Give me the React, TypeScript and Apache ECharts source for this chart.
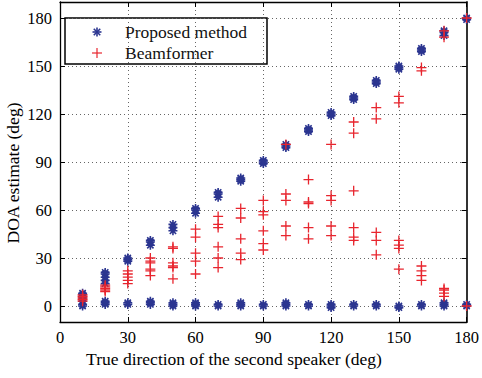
import React, { useEffect, useRef } from "react";
import * as echarts from "echarts";

const angles = [10, 20, 30, 40, 50, 60, 70, 80, 90, 100, 110, 120, 130, 140, 150, 160, 170, 180];

const proposedEstimates = [
  [0, 1, 3, 5, 7, 8],
  [14, 16, 18, 20, 21, 1, 2, 3],
  [28, 29, 30, 1, 2],
  [38, 40, 41, 1, 2, 3],
  [47, 49, 51, 0, 1, 2],
  [58, 60, 61, 0, 1, 2],
  [68, 70, 71, 0, 1],
  [78, 79, 80, 0, 1, 2],
  [89, 90, 91, 0, 1],
  [99, 100, 101, 0, 1, 2],
  [109, 110, 111, 0, 1],
  [119, 120, 121, -1, 0, 1],
  [129, 130, 131, 0, 1],
  [139, 140, 141, 0, 1],
  [148, 149, 150, -1, 0],
  [159, 160, 161, 0, 1],
  [169, 171, 172, 0, 1, 2],
  [179, 180, 0, 1],
];

const beamformerEstimates = [
  [3, 4, 5, 6, 7],
  [9, 10, 11, 12, 13],
  [14, 16, 18, 20, 22],
  [19, 22, 23, 27, 28, 30],
  [17, 24, 25, 27, 36, 37],
  [20, 28, 33, 43, 48],
  [24, 30, 37, 49, 51, 56],
  [29, 33, 42, 55, 61],
  [35, 39, 47, 57, 59, 66],
  [44, 50, 66, 70, 101],
  [42, 49, 64, 65, 79],
  [44, 50, 66, 69, 101],
  [41, 43, 49, 72, 108, 115],
  [32, 41, 46, 117, 124],
  [23, 36, 38, 41, 127, 131],
  [16, 19, 22, 25, 147, 149],
  [6, 8, 10, 11, 168, 172],
  [0, 180],
];

const xTicks = [0, 30, 60, 90, 120, 150, 180];
const yTicks = [0, 30, 60, 90, 120, 150, 180];

const seriesNames = ["Proposed method", "Beamformer"];
const xTitle = "True direction of the second speaker (deg)";
const yTitle = "DOA estimate (deg)";

const STAR = "path://M5,0L5,10M0,5L10,5M1.5,1.5L8.5,8.5M8.5,1.5L1.5,8.5";
const PLUS = "path://M5,0L5,10M0,5L10,5";

const FONT = "Liberation Serif";
const BLUE = "#2b3590";
const RED = "#e8252e";

function toPoints(est: number[][]) {
  const pts: number[][] = [];
  angles.forEach((a, i) => {
    est[i].forEach((v) => pts.push([a, v]));
  });
  return pts;
}

function starGraphic(cx: number, cy: number) {
  const r = 4.5;
  const d = r * 0.72;
  const style = { stroke: BLUE, lineWidth: 1.6 };
  return {
    type: "group",
    children: [
      { type: "line", shape: { x1: cx, y1: cy - r, x2: cx, y2: cy + r }, style },
      { type: "line", shape: { x1: cx - r, y1: cy, x2: cx + r, y2: cy }, style },
      { type: "line", shape: { x1: cx - d, y1: cy - d, x2: cx + d, y2: cy + d }, style },
      { type: "line", shape: { x1: cx + d, y1: cy - d, x2: cx - d, y2: cy + d }, style },
    ],
  };
}

function plusGraphic(cx: number, cy: number) {
  const r = 5;
  const style = { stroke: RED, lineWidth: 1.2 };
  return {
    type: "group",
    children: [
      { type: "line", shape: { x1: cx, y1: cy - r, x2: cx, y2: cy + r }, style },
      { type: "line", shape: { x1: cx - r, y1: cy, x2: cx + r, y2: cy }, style },
    ],
  };
}

export default function App() {
  const ref = useRef<HTMLDivElement>(null);
  useEffect(() => {
    if (!ref.current) return;
    const chart = echarts.init(ref.current, undefined, { renderer: "svg" });
    const gridLine = { show: true, lineStyle: { color: "#666", width: 1, type: [1, 3] as any } };
    const axisLine = { show: true, onZero: false, lineStyle: { color: "#000", width: 1.3 } };
    const tick = { show: true, inside: true, length: 5, lineStyle: { color: "#000", width: 1 } };
    chart.setOption({
      animation: false,
      backgroundColor: "#fff",
      textStyle: { fontFamily: FONT },
      grid: { left: 60, right: 12, top: 2, bottom: 56, containLabel: false },
      xAxis: [
        {
          type: "value",
          min: 0,
          max: 180,
          interval: 30,
          position: "bottom",
          axisLine,
          axisTick: tick,
          axisLabel: { fontFamily: FONT, fontSize: 16.5, lineHeight: 16, color: "#000", margin: 7, customValues: xTicks },
          splitLine: gridLine,
        },
        {
          type: "value",
          min: 0,
          max: 180,
          interval: 30,
          position: "top",
          axisLine,
          axisTick: tick,
          axisLabel: { show: false },
          splitLine: { show: false },
        },
      ],
      yAxis: [
        {
          type: "value",
          min: -10,
          max: 190,
          position: "left",
          axisLine,
          axisTick: { ...tick, customValues: yTicks },
          axisLabel: { fontFamily: FONT, fontSize: 16.5, color: "#000", margin: 8, customValues: yTicks },
          splitLine: gridLine,
        },
        {
          type: "value",
          min: -10,
          max: 190,
          position: "right",
          axisLine: { ...axisLine, lineStyle: { color: "#333", width: 2 } },
          axisTick: { ...tick, customValues: yTicks },
          axisLabel: { show: false },
          splitLine: { show: false },
        },
      ],
      graphic: [
        {
          type: "text",
          x: 234,
          y: 359,
          style: { text: xTitle, font: `17.5px "${FONT}"`, fill: "#000", textAlign: "center", textVerticalAlign: "middle" },
        },
        {
          type: "text",
          x: 13,
          y: 173,
          rotation: Math.PI / 2,
          style: { text: yTitle, font: `17.5px "${FONT}"`, fill: "#000", textAlign: "center", textVerticalAlign: "middle" },
        },
        {
          type: "group",
          z: 100,
          children: [
            {
              type: "rect",
              shape: { x: 65, y: 18, width: 202, height: 46 },
              style: { fill: "#fff", stroke: "#000", lineWidth: 1.5 },
            },
            starGraphic(97, 32),
            plusGraphic(97, 53),
            {
              type: "text",
              x: 125,
              y: 32,
              style: { text: seriesNames[0], font: `17.5px "${FONT}"`, fill: "#111", textVerticalAlign: "middle" },
            },
            {
              type: "text",
              x: 125,
              y: 53,
              style: { text: seriesNames[1], font: `17.5px "${FONT}"`, fill: "#111", textVerticalAlign: "middle" },
            },
          ],
        },
      ],
      series: [
        {
          name: seriesNames[0],
          type: "scatter",
          symbol: STAR,
          symbolSize: 9,
          data: toPoints(proposedEstimates),
          itemStyle: { color: "rgba(0,0,0,0)", borderColor: BLUE, borderWidth: 1.6, opacity: 1 },
        },
        {
          name: seriesNames[1],
          type: "scatter",
          symbol: PLUS,
          symbolSize: 10,
          data: toPoints(beamformerEstimates),
          itemStyle: { color: "rgba(0,0,0,0)", borderColor: RED, borderWidth: 1.3, opacity: 1 },
        },
      ],
    });
    return () => chart.dispose();
  }, []);
  return <div ref={ref} style={{ width: 482, height: 378, position: "absolute", left: 0, top: 0 }} />;
}
